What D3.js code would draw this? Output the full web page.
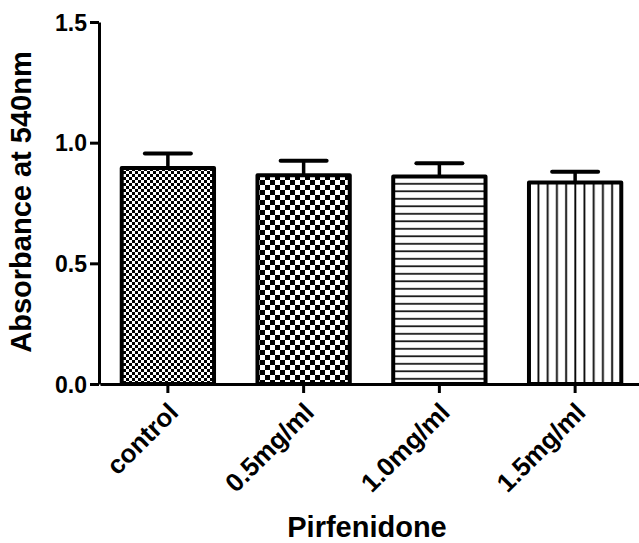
<!DOCTYPE html>
<html>
<head>
<meta charset="utf-8">
<script src="https://cdn.jsdelivr.net/npm/d3@7"></script>
<style>
  body { margin: 0; background: #fff; }
  text { font-family: "Liberation Sans", Arial, sans-serif; font-weight: bold; }
</style>
</head>
<body>
<div id="chart"></div>
<script>
// values
var categories = ['control', '0.5mg/ml', '1.0mg/ml', '1.5mg/ml'];
var means = [0.895, 0.865, 0.860, 0.835];
var errors = [0.060, 0.060, 0.055, 0.045];
var yTicks = [0.0, 0.5, 1.0, 1.5];
var patternIds = ['fineCheck', 'bigCheck', 'hLines', 'vLines'];

var width = 639, height = 543;

var svg = d3.select('#chart')
  .append('svg')
  .attr('width', width)
  .attr('height', height);

var defs = svg.append('defs');

// fine checkerboard
var p1 = defs.append('pattern').attr('id', 'fineCheck')
  .attr('patternUnits', 'userSpaceOnUse').attr('width', 6).attr('height', 6);
p1.append('rect').attr('width', 6).attr('height', 6).attr('fill', '#fff');
p1.append('rect').attr('width', 3).attr('height', 3).attr('fill', '#000');
p1.append('rect').attr('x', 3).attr('y', 3).attr('width', 3).attr('height', 3).attr('fill', '#000');

// big checkerboard
var p2 = defs.append('pattern').attr('id', 'bigCheck')
  .attr('patternUnits', 'userSpaceOnUse').attr('width', 10).attr('height', 10);
p2.append('rect').attr('width', 10).attr('height', 10).attr('fill', '#fff');
p2.append('rect').attr('width', 5).attr('height', 5).attr('fill', '#000');
p2.append('rect').attr('x', 5).attr('y', 5).attr('width', 5).attr('height', 5).attr('fill', '#000');

// horizontal lines
var p3 = defs.append('pattern').attr('id', 'hLines')
  .attr('patternUnits', 'userSpaceOnUse').attr('width', 10).attr('height', 7.5);
p3.append('rect').attr('width', 10).attr('height', 7.5).attr('fill', '#fff');
p3.append('rect').attr('y', 3).attr('width', 10).attr('height', 1.6).attr('fill', '#000');

// vertical lines
var p4 = defs.append('pattern').attr('id', 'vLines')
  .attr('patternUnits', 'userSpaceOnUse').attr('width', 9.2).attr('height', 10);
p4.append('rect').attr('width', 9.2).attr('height', 10).attr('fill', '#fff');
p4.append('rect').attr('x', 4).attr('width', 1.8).attr('height', 10).attr('fill', '#000');

var x = d3.scaleBand()
  .domain(categories)
  .range([100, 643])
  .paddingInner(0.32)
  .paddingOuter(0.16);

var y = d3.scaleLinear()
  .domain([0, 1.5])
  .range([384, 22]);

var data = categories.map(function(c, i) {
  return { name: c, mean: means[i], err: errors[i], pat: patternIds[i] };
});

// error bars (upper only, drawn behind bars)
var eb = svg.append('g');
eb.selectAll('line.stem')
  .data(data)
  .enter().append('line')
  .attr('x1', function(d) { return x(d.name) + x.bandwidth() / 2; })
  .attr('x2', function(d) { return x(d.name) + x.bandwidth() / 2; })
  .attr('y1', function(d) { return y(d.mean); })
  .attr('y2', function(d) { return y(d.mean + d.err); })
  .attr('stroke', '#000').attr('stroke-width', 3.5);
eb.selectAll('line.cap')
  .data(data)
  .enter().append('line')
  .attr('x1', function(d) { return x(d.name) + x.bandwidth() / 2 - 23; })
  .attr('x2', function(d) { return x(d.name) + x.bandwidth() / 2 + 23; })
  .attr('y1', function(d) { return y(d.mean + d.err); })
  .attr('y2', function(d) { return y(d.mean + d.err); })
  .attr('stroke', '#000').attr('stroke-width', 4)
  .attr('stroke-linecap', 'round');

// bars
svg.append('g').selectAll('rect')
  .data(data)
  .enter().append('rect')
  .attr('x', function(d) { return x(d.name); })
  .attr('width', x.bandwidth())
  .attr('y', function(d) { return y(d.mean); })
  .attr('height', function(d) { return y(0) - y(d.mean); })
  .attr('fill', function(d) { return 'url(#' + d.pat + ')'; })
  .attr('stroke', '#000')
  .attr('stroke-width', 4)
  .attr('stroke-linejoin', 'round');

// y axis
var yAxis = svg.append('g')
  .attr('transform', 'translate(99,0)')
  .call(d3.axisLeft(y).tickValues(yTicks).tickFormat(d3.format('.1f')).tickSize(9).tickSizeOuter(0).tickPadding(3));

// x axis
var xAxis = svg.append('g')
  .attr('transform', 'translate(0,384)')
  .call(d3.axisBottom(x).tickSize(9).tickSizeOuter(0));

[yAxis, xAxis].forEach(function(g) {
  g.select('.domain').attr('stroke-width', 3);
  g.selectAll('.tick line').attr('stroke-width', 3);
  g.selectAll('.tick text').attr('fill', '#000');
});

yAxis.selectAll('.tick text').style('font-size', '23px').attr('dy', '0.36em');

xAxis.selectAll('.tick text')
  .style('font-size', '26px')
  .attr('text-anchor', 'end')
  .attr('dy', null)
  .attr('y', 0)
  .attr('transform', 'translate(12,30) rotate(-45)');

// axis titles
svg.append('text')
  .attr('transform', 'translate(31,202) rotate(-90)')
  .attr('text-anchor', 'middle')
  .style('font-size', '29px')
  .text('Absorbance at 540nm');

svg.append('text')
  .attr('x', 367)
  .attr('y', 537)
  .attr('text-anchor', 'middle')
  .style('font-size', '29px')
  .text('Pirfenidone');
</script>
</body>
</html>
